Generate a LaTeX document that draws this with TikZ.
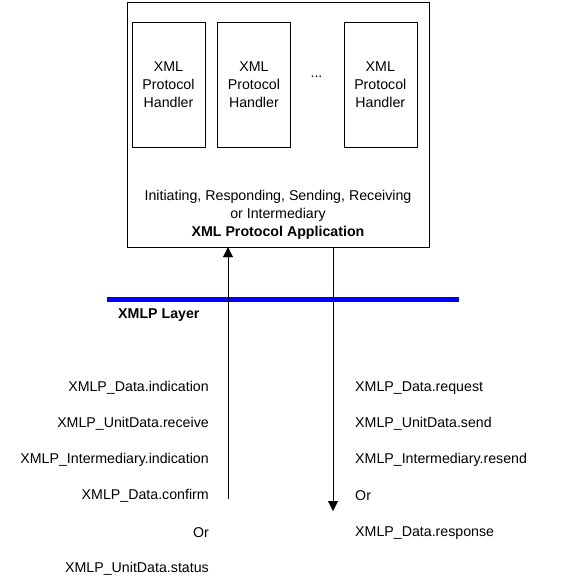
\documentclass[tikz,border=0pt]{standalone}
\usepackage{fontspec}
\setmainfont{Liberation Sans}
\usetikzlibrary{positioning,arrows.meta}
\definecolor{layerBlue}{RGB}{0,0,255}

\begin{document}
\begin{tikzpicture}[x=1pt, y=-1pt,
    every node/.style={font=\fontsize{14.2}{18}\selectfont},
    handler/.style={draw, minimum width=73pt, minimum height=125pt, align=center, inner sep=0pt},
    lbl/.style={inner sep=0pt},
    tip/.style={-{Triangle[width=10pt,length=10pt]}}]
                \useasboundingbox (0,0) rectangle (560,584);
                \node[draw, minimum width=302pt, minimum height=245pt, inner sep=0pt] (app) at (278,124.5) {};
                \node[handler] (h1) at (168.5,84.5) {XML\\Protocol\\Handler};
                \node[handler] (h2) [right=12pt of h1] {XML\\Protocol\\Handler};
                \node[handler] (h3) [right=53pt of h2] {XML\\Protocol\\Handler};
                \node[lbl] (dots) at (316.5,77) {...};
                \node[align=center, inner sep=0pt] (role) at (278,215) {Initiating, Responding, Sending, Receiving\\or Intermediary\\\textbf{XML Protocol Application}};

                % layer
                \coordinate (layerL) at (107,299);
                \coordinate (layerR) at (459,299);
                \draw[layerBlue, line width=5pt] (layerL) -- (layerR);
                \node[lbl, font=\fontsize{14.2}{18}\selectfont\bfseries, anchor=west] (layer) at (118,315) {XMLP Layer};

                % primitives up
                \node[lbl, anchor=east] (l1) at (209,388) {XMLP\_Data.indication};
                \node[lbl, anchor=east] (l2) at (209,424) {XMLP\_UnitData.receive};
                \node[lbl, anchor=east] (l3) at (209,460) {XMLP\_Intermediary.indication};
                \node[lbl, anchor=east] (l4) at (209,496) {XMLP\_Data.confirm};
                \node[lbl, anchor=east] (l5) at (209,533) {Or};
                \node[lbl, anchor=east] (l6) at (209,569) {XMLP\_UnitData.status};

                % primitives down
                \node[lbl, anchor=west] (r1) at (355,388) {XMLP\_Data.request};
                \node[lbl, anchor=west] (r2) at (355,424) {XMLP\_UnitData.send};
                \node[lbl, anchor=west] (r3) at (355,460) {XMLP\_Intermediary.resend};
                \node[lbl, anchor=west] (r4) at (355,496) {Or};
                \node[lbl, anchor=west] (r5) at (355,533) {XMLP\_Data.response};

                \coordinate (upFrom) at (228,499);
                \coordinate (downTo) at (333,511);
                \draw[tip] (upFrom) -- (upFrom |- app.south);
                \draw[tip] (downTo |- app.south) -- (downTo);
            \end{tikzpicture}
\end{document}
